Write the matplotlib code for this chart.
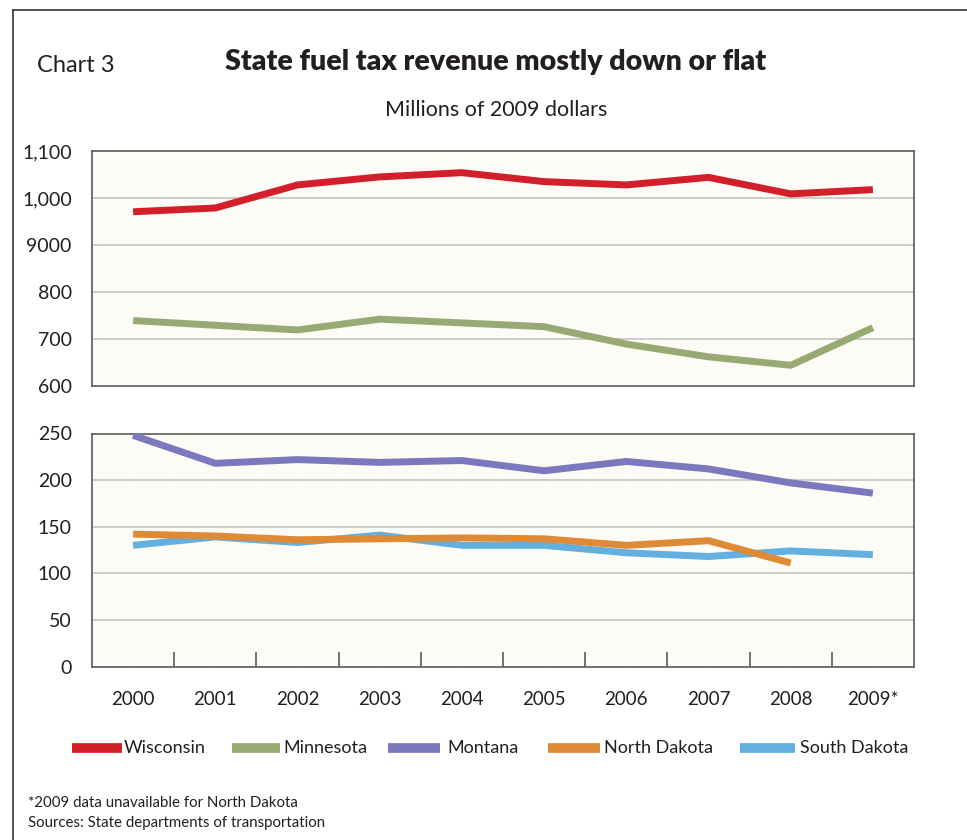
import matplotlib
matplotlib.use("Agg")
import matplotlib.pyplot as plt
from matplotlib.lines import Line2D
import numpy as np

years = ["2000", "2001", "2002", "2003", "2004", "2005", "2006", "2007", "2008", "2009*"]

wisconsin = [971, 979, 1028, 1045, 1054, 1035, 1028, 1044, 1009, 1018]
minnesota = [740, 730, 720, 743, 735, 727, 690, 663, 645, 725]
montana = [248, 218, 222, 219, 221, 210, 220, 212, 197, 186]
north_dakota = [142, 140, 136, 137, 138, 137, 130, 135, 111]
south_dakota = [130, 139, 133, 141, 130, 130, 122, 118, 124, 120]

top_ticks = [600, 700, 800, 900, 1000, 1100]
top_labels = ["600", "700", "800", "9000", "1,000", "1,100"]
bottom_ticks = [0, 50, 100, 150, 200, 250]
bottom_labels = ["0", "50", "100", "150", "200", "250"]

colors = {
    "Wisconsin": "#D31F2A",
    "Minnesota": "#98AA74",
    "Montana": "#7B79BD",
    "North Dakota": "#DE8A36",
    "South Dakota": "#62AFE0",
}

FONT = "Lato"
plt.rcParams["font.family"] = [FONT, "DejaVu Sans"]

W, H = 967, 840
fig = plt.figure(figsize=(W / 100, H / 100), dpi=100)


def box(x0, y0, x1, y1):
    return [x0 / W, 1 - y1 / H, (x1 - x0) / W, (y1 - y0) / H]


def fx(px):
    return px / W


def fy(py):
    return 1 - py / H


ax_top = fig.add_axes(box(92, 151, 914, 386.5))
ax_bot = fig.add_axes(box(92, 433.5, 914, 666.5))

bg = "#FCFBF6"
spine_c = "#5A5A5A"
grid_c = "#C4C4C4"
text_c = "#231F20"
x = np.arange(len(years))

for ax in (ax_top, ax_bot):
    ax.set_facecolor(bg)
    ax.set_xlim(-0.5, len(years) - 0.5)
    for s in ax.spines.values():
        s.set_color(spine_c)
        s.set_linewidth(1.2)
    # faint vertical guides
    for v in np.arange(-0.5, len(years), 0.5):
        ax.axvline(v, color="white", lw=1.0, zorder=0.6)
    ax.tick_params(axis="y", length=0, pad=14.5, labelsize=14, labelcolor=text_c)

lw = 5.0
ax_top.plot(x, wisconsin, color=colors["Wisconsin"], lw=lw, solid_capstyle="butt", zorder=3)
ax_top.plot(x, minnesota, color=colors["Minnesota"], lw=lw, solid_capstyle="butt", zorder=3)
ax_top.set_ylim(600, 1100)
ax_top.set_yticks(top_ticks)
ax_top.set_yticklabels(top_labels)
ax_top.set_xticks([])
for t in top_ticks[1:-1]:
    ax_top.axhline(t, color=grid_c, lw=1.2, zorder=1)

ax_bot.plot(x, montana, color=colors["Montana"], lw=lw, solid_capstyle="butt", zorder=3)
ax_bot.plot(x, south_dakota, color=colors["South Dakota"], lw=lw, solid_capstyle="butt", zorder=3)
ax_bot.plot(x[:len(north_dakota)], north_dakota, color=colors["North Dakota"], lw=lw,
            solid_capstyle="butt", zorder=4)
ax_bot.set_ylim(0, 250)
ax_bot.set_yticks(bottom_ticks)
ax_bot.set_yticklabels(bottom_labels)
for t in bottom_ticks[1:-1]:
    ax_bot.axhline(t, color=grid_c, lw=1.2, zorder=1)
ax_bot.set_xticks(x)
ax_bot.set_xticklabels(years)
ax_bot.set_xticks(np.arange(0.5, len(years) - 1, 1), minor=True)
ax_bot.tick_params(axis="x", which="major", length=0, pad=17.5, labelsize=13.5, labelcolor=text_c)
ax_bot.tick_params(axis="x", which="minor", direction="in", length=11, width=1.2, color=spine_c)

# outer frame
fig.add_artist(Line2D([fx(12.5), 1], [fy(10), fy(10)], color="#333333", lw=1.2,
                      transform=fig.transFigure))
fig.add_artist(Line2D([fx(12.5), fx(12.5)], [fy(10), 0], color="#333333", lw=1.2,
                      transform=fig.transFigure))

fig.text(fx(37), fy(66), "Chart 3", fontsize=17, color=text_c, va="center", ha="left")
fig.text(fx(496), fy(62), "State fuel tax revenue mostly down or flat", fontsize=20.5,
         fontweight="heavy", color=text_c, va="center", ha="center")
fig.text(fx(496), fy(110), "Millions of 2009 dollars", fontsize=15.5, color=text_c,
         va="center", ha="center")

# legend row: swatch span and label start for each state
legend_swatch = [(72, 122), (232, 280), (388, 440), (548, 600), (740, 795)]
legend_text_x = [124, 283, 447, 604, 800]
for (name, col), (s0, s1), tx in zip(colors.items(), legend_swatch, legend_text_x):
    fig.add_artist(Line2D([fx(s0), fx(s1)], [fy(748), fy(748)], color=col, lw=7,
                          solid_capstyle="butt", transform=fig.transFigure))
    fig.text(fx(tx), fy(748), name, fontsize=13, color=text_c, va="center", ha="left")

fig.text(fx(28), fy(803), "*2009 data unavailable for North Dakota", fontsize=10.8,
         color=text_c, va="center", ha="left")
fig.text(fx(28), fy(823), "Sources: State departments of transportation", fontsize=10.8,
         color=text_c, va="center", ha="left")

fig.savefig("out.png", dpi=100, facecolor="white")
